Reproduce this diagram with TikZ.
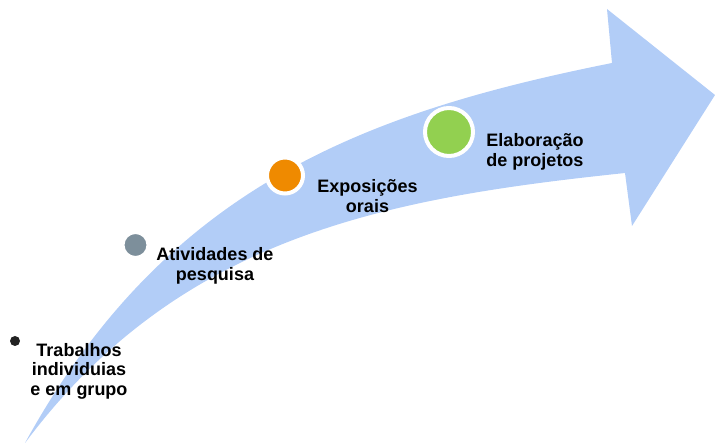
\documentclass[tikz,border=0pt]{standalone}
\usepackage{fontspec}
\setmainfont{Liberation Sans}
\definecolor{arrowblue}{HTML}{B2CDF7}
\definecolor{dotgray}{HTML}{7D8F9B}
\definecolor{dotorange}{HTML}{EF8A00}
\definecolor{dotgreen}{HTML}{92D050}
\definecolor{dotblack}{HTML}{222222}
\begin{document}
\begin{tikzpicture}[x=1pt,y=-1pt,
  lbl/.style={align=center,inner sep=0pt,font=\fontsize{18}{19.5}\selectfont\bfseries},
  dotc/.style={circle,inner sep=0pt,draw=white,line width=4pt}]
\useasboundingbox (0,0) rectangle (715,443);
% arrow
\fill[arrowblue] (25,443) .. controls (165,188) and (362,113) .. (612,63)
  -- (607,9) -- (715,95) -- (632,226) -- (625,173)
  .. controls (387.5,198) and (180,235.5) .. (25,443) -- cycle;
% dots
\node[circle,fill=dotblack,inner sep=0pt,minimum size=10pt] (d1) at (15,341) {};
\node[dotc,fill=dotgray,minimum size=26pt] (d2) at (135.5,245) {};
\node[dotc,fill=dotorange,minimum size=36pt] (d3) at (285,175.5) {};
\node[dotc,fill=dotgreen,minimum size=48pt] (d4) at (449,132) {};
% labels
\node[lbl] (t1) at (79,371) {Trabalhos\\individuias\\e em grupo};
\node[lbl] (t2) at (215,266) {Atividades de\\pesquisa};
\node[lbl] (t3) at (367.5,196) {Exposições\\orais};
\node[lbl] (t4) at (535,152) {Elaboração\\de projetos};
\end{tikzpicture}
\end{document}
